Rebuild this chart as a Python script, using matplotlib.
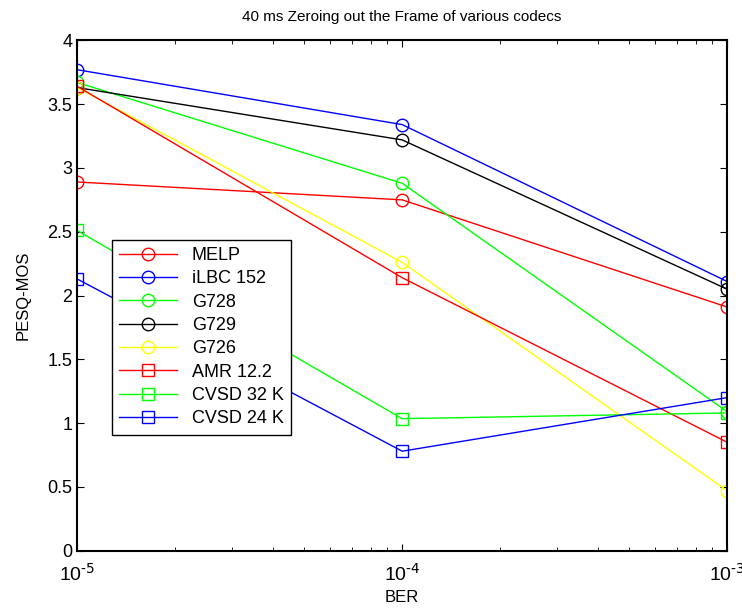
import matplotlib
matplotlib.use("Agg")
import matplotlib.pyplot as plt
from matplotlib.ticker import LogLocator, NullFormatter, FixedLocator

plt.rcParams['font.family'] = ['Liberation Sans', 'DejaVu Sans']
plt.rcParams['mathtext.default'] = 'regular'
plt.rcParams['axes.unicode_minus'] = False

ber = [1e-5, 1e-4, 1e-3]
labels = ["MELP", "iLBC 152", "G728", "G729", "G726", "AMR 12.2", "CVSD 32 K", "CVSD 24 K"]
melp = [2.89, 2.75, 1.91]
ilbc = [3.77, 3.34, 2.11]
g728 = [3.67, 2.88, 1.09]
g729 = [3.63, 3.22, 2.05]
g726 = [3.63, 2.26, 0.47]
amr = [3.64, 2.14, 0.85]
cvsd32 = [2.51, 1.035, 1.08]
cvsd24 = [2.13, 0.78, 1.20]
series = [melp, ilbc, g728, g729, g726, amr, cvsd32, cvsd24]
colors = ["#ff0000", "#0000ff", "#00ff00", "#000000", "#ffff00", "#ff0000", "#00ff00", "#0000ff"]
markers = ["o", "o", "o", "o", "o", "s", "s", "s"]
xticklabels = [r"$10^{\text{-5}}$", r"$10^{\text{-4}}$", r"$10^{\text{-3}}$"]

fig = plt.figure(figsize=(7.42, 6.09), dpi=100)
ax = fig.add_axes([0.104, 0.0957, 0.876, 0.838])

for vals, lab, c, m in zip(series, labels, colors, markers):
    ax.plot(ber, vals, color=c, marker=m, markerfacecolor='none', markeredgecolor=c,
            markersize=9 if m == "o" else 8.5, linewidth=1, label=lab, markeredgewidth=1)

ax.set_xscale('log')
ax.set_xlim(1e-5, 1e-3)
ax.set_ylim(0, 4)
ax.xaxis.set_major_locator(FixedLocator(ber))
ax.set_xticklabels(xticklabels)
ax.yaxis.set_major_locator(FixedLocator([0, 0.5, 1, 1.5, 2, 2.5, 3, 3.5, 4]))
ax.set_yticklabels(["0", "0.5", "1", "1.5", "2", "2.5", "3", "3.5", "4"])
ax.xaxis.set_minor_locator(LogLocator(base=10, subs=range(2, 10)))
ax.xaxis.set_minor_formatter(NullFormatter())
ax.tick_params(axis='both', which='both', direction='in', top=True, right=True, labelsize=13)
ax.tick_params(axis='x', which='major', pad=9, labelsize=14)
ax.tick_params(which='major', length=5)
ax.tick_params(which='minor', length=3)
for s in ax.spines.values():
    s.set_linewidth(1.5)

ax.set_title("40 ms Zeroing out the Frame of various codecs", fontsize=11, pad=14)
ax.set_xlabel("BER", fontsize=12, labelpad=4)
ax.set_ylabel("PESQ-MOS", fontsize=12, labelpad=12)

leg = ax.legend(loc='upper left', bbox_to_anchor=(0.054, 0.609), fontsize=13,
                frameon=True, fancybox=False, edgecolor='black', framealpha=1,
                borderpad=0.4, labelspacing=0.35, handlelength=3.2, borderaxespad=0)
leg.get_frame().set_linewidth(1)

fig.savefig("out.png", dpi=100)
